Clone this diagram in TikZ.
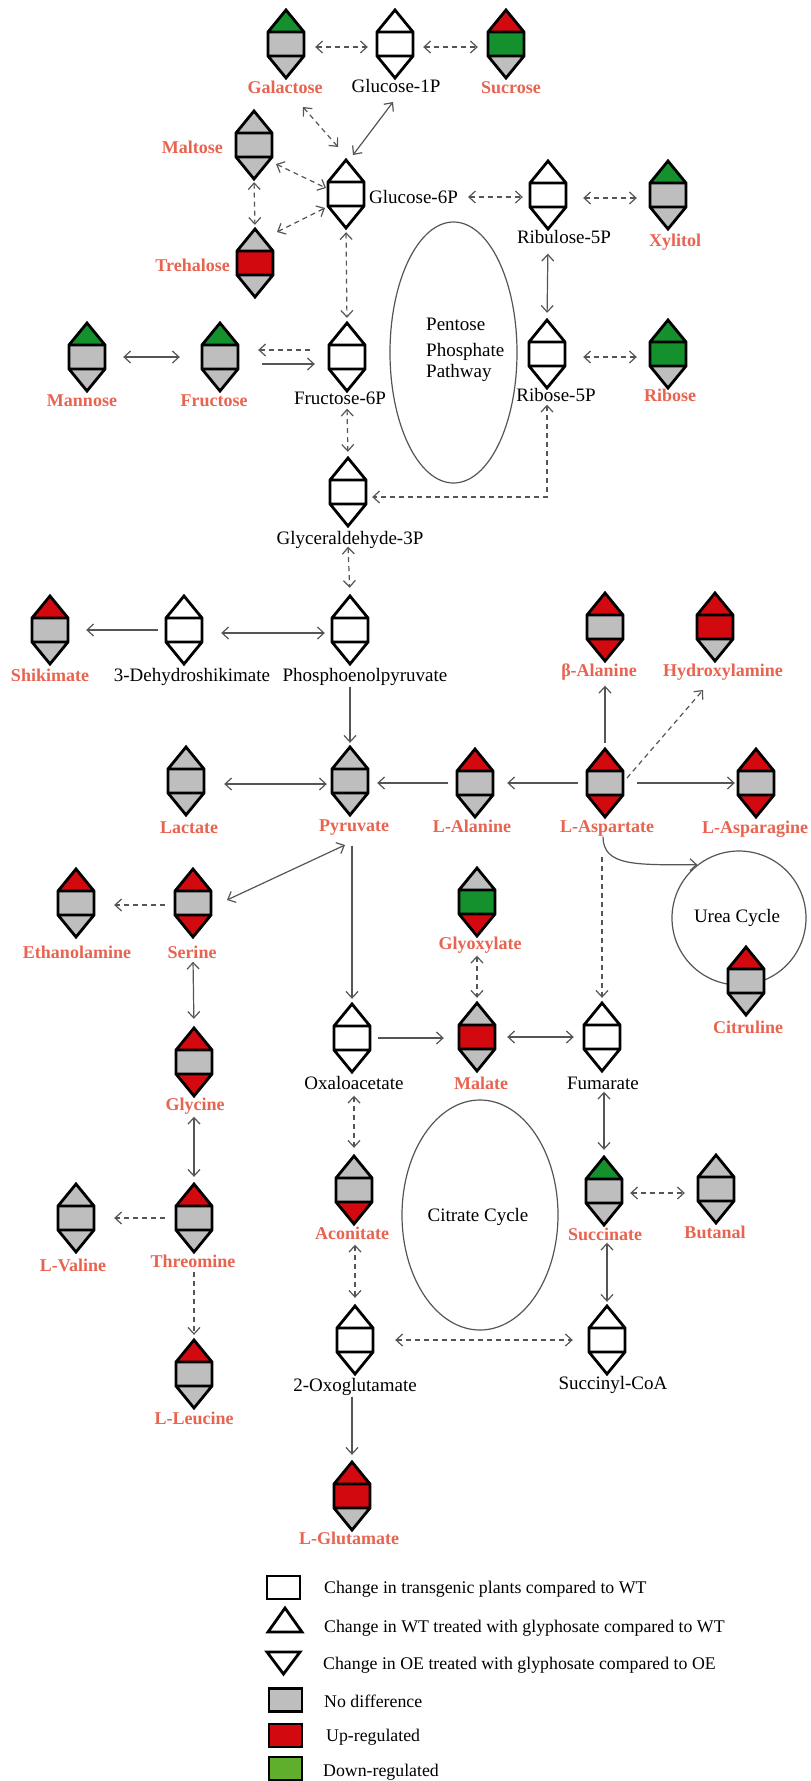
\documentclass[tikz,border=0pt]{standalone}
\usepackage{fontspec}
\setmainfont{Liberation Serif}
\usetikzlibrary{arrows.meta,calc,shapes.geometric}
\definecolor{gfill}{RGB}{190,190,190}
\definecolor{rfill}{RGB}{210,10,15}
\definecolor{grfill}{RGB}{20,145,45}
\definecolor{lgreen}{RGB}{95,175,45}
\definecolor{lblred}{RGB}{232,100,80}
\definecolor{arrgray}{RGB}{85,85,85}
\tikzset{
  glyphnode/.style={inner sep=0pt, minimum width=36pt, minimum height=68pt, draw=none},
  glyphline/.style={draw=black, line width=2.8pt, line join=miter},
  lbl/.style={inner sep=0pt, text height=13.5pt, text depth=1.5pt},
  blk/.style={lbl, text=black, font=\fontsize{19pt}{22pt}\selectfont},
  lgt/.style={lbl, text=black, font=\fontsize{17.8pt}{21pt}\selectfont, anchor=west},
  rl/.style={lbl, text=lblred, font=\fontsize{18pt}{21pt}\selectfont\bfseries},
  con/.style={draw=arrgray, line width=1.2pt},
  sa/.style={con, ->},
  ba/.style={con, <->},
  dsh/.style={dash pattern=on 5pt off 4pt},
  cyc/.style={draw=arrgray, line width=1.2pt, inner sep=0pt},
  lgbox/.style={draw=black, line width=2.8pt, minimum width=33pt, minimum height=23pt, inner sep=0pt}
}
\newcommand{\mglyph}[6]{%
  \node[glyphnode] (#1) at (#2,#3) {};
  \fill[#4] (#2-18,#3-12) -- (#2,#3-34) -- (#2+18,#3-12) -- cycle;
  \fill[#5] (#2-18,#3-12) rectangle (#2+18,#3+12);
  \fill[#6] (#2-18,#3+12) -- (#2,#3+34) -- (#2+18,#3+12) -- cycle;
  \draw[glyphline] (#2,#3-34) -- (#2+18,#3-12) -- (#2+18,#3+12) -- (#2,#3+34) -- (#2-18,#3+12) -- (#2-18,#3-12) -- cycle
    (#2-18,#3-12) -- (#2+18,#3-12) (#2-18,#3+12) -- (#2+18,#3+12);
}
\begin{document}
\begin{tikzpicture}[x=1pt, y=-1pt, >={Straight Barb[length=6.5pt,width=12pt]}]
\useasboundingbox[fill=white] (0,0) rectangle (811,1781);

% cycles
\node[cyc, ellipse, minimum width=127pt, minimum height=261pt] (ppp) at (453.5,352.5) {};
\node[cyc, ellipse, minimum width=156pt, minimum height=230pt] (tca) at (480,1215) {};
\node[cyc, circle, minimum size=134pt] (urea) at (739,918) {};
\node[blk, anchor=base west] (ppp1) at (426,330) {Pentose};
\node[blk, anchor=base west] (ppp2) at (426,356) {Phosphate};
\node[blk, anchor=base west] (ppp3) at (426,377) {Pathway};
\node[blk] (tcaL) at (478,1215) {Citrate Cycle};
\node[blk] (ureaL) at (737,916) {Urea Cycle};

% glyphs
\mglyph{gal}{286}{44}{grfill}{gfill}{gfill}
\mglyph{g1p}{395}{44}{white}{white}{white}
\mglyph{suc}{506}{44}{rfill}{grfill}{gfill}
\mglyph{mal}{254}{145}{gfill}{gfill}{gfill}
\mglyph{g6p}{346}{194}{white}{white}{white}
\mglyph{tre}{255}{263}{gfill}{rfill}{gfill}
\mglyph{ru5p}{548}{195}{white}{white}{white}
\mglyph{xyl}{668}{195}{grfill}{gfill}{gfill}
\mglyph{r5p}{547}{354}{white}{white}{white}
\mglyph{rib}{668}{354}{grfill}{grfill}{gfill}
\mglyph{man}{87}{357}{grfill}{gfill}{gfill}
\mglyph{fru}{220}{357}{grfill}{gfill}{gfill}
\mglyph{f6p}{347}{357}{white}{white}{white}
\mglyph{g3p}{348}{492}{white}{white}{white}
\mglyph{shk}{50}{630}{rfill}{gfill}{gfill}
\mglyph{dhs}{184}{630}{white}{white}{white}
\mglyph{pep}{350}{630}{white}{white}{white}
\mglyph{bal}{605}{627}{rfill}{gfill}{rfill}
\mglyph{hyd}{715}{627}{rfill}{rfill}{gfill}
\mglyph{lac}{186}{781}{gfill}{gfill}{gfill}
\mglyph{pyr}{350}{781}{gfill}{gfill}{gfill}
\mglyph{ala}{475}{783}{rfill}{gfill}{gfill}
\mglyph{asp}{605}{783}{rfill}{gfill}{rfill}
\mglyph{asn}{756}{783}{rfill}{gfill}{rfill}
\mglyph{eth}{76}{903}{rfill}{gfill}{gfill}
\mglyph{ser}{193}{903}{rfill}{gfill}{rfill}
\mglyph{glx}{477}{902}{gfill}{grfill}{rfill}
\mglyph{cit}{746}{981}{rfill}{gfill}{gfill}
\mglyph{oxa}{352}{1038}{white}{white}{white}
\mglyph{mala}{477}{1037}{gfill}{rfill}{gfill}
\mglyph{fum}{602}{1037}{white}{white}{white}
\mglyph{gly}{194}{1062}{rfill}{gfill}{rfill}
\mglyph{aco}{354}{1190}{gfill}{gfill}{rfill}
\mglyph{sucn}{604}{1191}{grfill}{gfill}{gfill}
\mglyph{but}{716}{1189}{gfill}{gfill}{gfill}
\mglyph{val}{76}{1218}{gfill}{gfill}{gfill}
\mglyph{thr}{194}{1218}{rfill}{gfill}{gfill}
\mglyph{oxg}{355}{1340}{white}{white}{white}
\mglyph{sco}{607}{1340}{white}{white}{white}
\mglyph{leu}{194}{1374}{rfill}{gfill}{gfill}
\mglyph{glu}{352}{1496}{rfill}{rfill}{gfill}

% labels
\node[rl] (galL) at (285,87) {Galactose};
\node[blk] (g1pL) at (396,86) {Glucose-1P};
\node[rl] (sucL) at (511,87) {Sucrose};
\node[rl, anchor=east] (malL) at (223,147) {Maltose};
\node[rl, anchor=east] (treL) at (230,265) {Trehalose};
\node[blk, anchor=west] (g6pL) at (369,197) {Glucose-6P};
\node[blk] (ru5pL) at (564,237) {Ribulose-5P};
\node[rl] (xylL) at (675,240) {Xylitol};
\node[blk] (r5pL) at (556,395) {Ribose-5P};
\node[rl] (ribL) at (670,395) {Ribose};
\node[rl] (manL) at (82,400) {Mannose};
\node[rl] (fruL) at (214,400) {Fructose};
\node[blk] (f6pL) at (340,398) {Fructose-6P};
\node[blk] (g3pL) at (350,538) {Glyceraldehyde-3P};
\node[rl] (shkL) at (50,675) {Shikimate};
\node[blk] (dhsL) at (192,675) {3-Dehydroshikimate};
\node[blk] (pepL) at (365,675) {Phosphoenolpyruvate};
\node[rl] (balL) at (599,670) {β-Alanine};
\node[rl] (hydL) at (723,670) {Hydroxylamine};
\node[rl] (lacL) at (189,827) {Lactate};
\node[rl] (pyrL) at (354,825) {Pyruvate};
\node[rl] (alaL) at (472,826) {L-Alanine};
\node[rl] (aspL) at (607,826) {L-Aspartate};
\node[rl] (asnL) at (755,827) {L-Asparagine};
\node[rl] (ethL) at (77,952) {Ethanolamine};
\node[rl] (serL) at (192,952) {Serine};
\node[rl] (glxL) at (480,943) {Glyoxylate};
\node[rl] (citL) at (748,1027) {Citruline};
\node[blk] (oxaL) at (354,1083) {Oxaloacetate};
\node[rl] (malaL) at (481,1083) {Malate};
\node[blk] (fumL) at (603,1083) {Fumarate};
\node[rl] (glyL) at (195,1104) {Glycine};
\node[rl] (acoL) at (352,1233) {Aconitate};
\node[rl] (sucnL) at (605,1234) {Succinate};
\node[rl] (butL) at (715,1232) {Butanal};
\node[rl] (valL) at (73,1265) {L-Valine};
\node[rl] (thrL) at (193,1261) {Threomine};
\node[blk] (oxgL) at (355,1385) {2-Oxoglutamate};
\node[blk] (scoL) at (613,1383) {Succinyl-CoA};
\node[rl] (leuL) at (194,1418) {L-Leucine};
\node[rl] (gluL) at (349,1538) {L-Glutamate};

% connectors
\draw[ba,dsh,shorten <=11pt,shorten >=9pt] ([yshift=-3pt]gal.east) -- ([yshift=-3pt]g1p.west);
\draw[ba,dsh,shorten <=10pt,shorten >=10pt] ([yshift=-3pt]g1p.east) -- ([yshift=-3pt]suc.west);
\draw[ba,dsh] ([shift={(17,63)}]gal.center) -- ([shift={(-8,-47)}]g6p.center);
\draw[ba] ([shift={(-2,58)}]g1p.center) -- ([shift={(7,-39)}]g6p.center);
\draw[ba,dsh] ([shift={(22,19)}]mal.center) -- ([shift={(-20,-6)}]g6p.center);
\draw[ba,dsh,shorten <=3pt,shorten >=4pt] (mal.south) -- (tre.north);
\draw[ba,dsh] ([shift={(22,-31)}]tre.center) -- ([shift={(-21,14)}]g6p.center);
\draw[ba,dsh,shorten <=10pt,shorten >=7pt] (g6pL.east) -- (g6pL.east -| ru5p.west);
\draw[ba,dsh,shorten <=17pt,shorten >=13pt] ([yshift=-3pt]ru5p.east) -- ([yshift=-3pt]xyl.west);
\draw[ba,shorten <=9pt,shorten >=7pt] (ru5p |- ru5pL.south) -- (r5p.north);
\draw[ba,dsh,shorten <=18pt,shorten >=13pt] ([yshift=-3pt]r5p.east) -- ([yshift=-3pt]rib.west);
\coordinate (g3pin) at ([yshift=-5pt]g3p.east);
\draw[ba,dsh,shorten <=2pt,shorten >=6pt] (r5p |- r5pL.south) -- (r5p |- g3pin) -- (g3pin);
\draw[ba,dsh,shorten <=4pt,shorten >=5pt] (g6p.south) -- (f6p.north);
\draw[ba,shorten <=18pt,shorten >=22pt] (man.east) -- (fru.west);
\draw[sa,dsh,shorten <=19pt,shorten >=20pt] ([yshift=7pt]f6p.west) -- ([yshift=7pt]fru.east);
\draw[sa,shorten <=24pt,shorten >=14pt] ([yshift=-7pt]fru.east) -- ([yshift=-7pt]f6p.west);
\draw[ba,dsh,shorten <=3pt,shorten >=6pt] (f6p |- f6pL.south) -- (g3p.north);
\draw[ba,dsh,shorten <=1pt,shorten >=8pt] (g3p |- g3pL.south) -- (pep.north);
\draw[sa,shorten <=8pt,shorten >=18pt] (dhs.west) -- (shk.east);
\draw[ba,shorten <=19pt,shorten >=7pt] ([yshift=-3pt]dhs.east) -- ([yshift=-3pt]pep.west);
\draw[sa,shorten <=4pt,shorten >=4pt] (pep |- pepL.south) -- (pyr.north);
\draw[ba,shorten <=20pt,shorten >=5pt] ([yshift=-3pt]lac.east) -- ([yshift=-3pt]pyr.west);
\draw[sa,shorten <=9pt,shorten >=9pt] (ala.west) -- (ala.west -| pyr.east);
\draw[sa,shorten <=9pt,shorten >=14pt] (asp.west) -- (ala.east);
\draw[sa,shorten <=14pt,shorten >=3pt] (asp.east) -- (asn.west);
\draw[sa,shorten <=6pt,shorten >=8pt] (asp.north) -- (asp |- balL.south);
\draw[sa,dsh] ([shift={(22,-5)}]asp.center) -- ([shift={(-12,63)}]hyd.center);
\draw[sa] ([shift={(-4,3)}]aspL.south) .. controls +(0,30) and +(-60,0) .. (urea.128);
\draw[sa,dsh,shorten <=23pt,shorten >=5pt] (fum |- aspL.south) -- (fum.north);
\draw[sa,shorten <=13pt,shorten >=5pt] (oxa |- pyrL.south) -- (oxa.north);
\draw[ba] ([shift={(34,-3)}]ser.center) -- ([shift={(-5,64)}]pyr.center);
\draw[sa,dsh,shorten <=10pt,shorten >=20pt] ([yshift=-2pt]ser.west) -- ([yshift=-2pt]eth.east);
\draw[ba,shorten <=2pt,shorten >=9pt] (ser |- serL.south) -- (gly.north);
\draw[ba,shorten <=5pt,shorten >=7pt] (gly |- glyL.south) -- (thr.north);
\draw[sa,dsh,shorten <=11pt,shorten >=20pt] (thr.west) -- (val.east);
\draw[sa,dsh,shorten <=3pt,shorten >=5pt] (thr |- thrL.south) -- (leu.north);
\draw[ba,dsh,shorten <=5pt,shorten >=5pt] (glx |- glxL.south) -- (mala.north);
\draw[sa,shorten <=8pt,shorten >=15pt] (oxa.east) -- (oxa.east -| mala.west);
\draw[ba,shorten <=12pt,shorten >=10pt] (mala.east) -- (fum.west);
\draw[ba,shorten <=1pt,shorten >=7pt] (sucn |- fumL.south) -- (sucn.north);
\draw[ba,dsh,shorten <=8pt,shorten >=13pt] ([yshift=-2pt]sucn.east) -- ([yshift=-2pt]sucn.east -| but.west);
\draw[ba,shorten <=1pt,shorten >=4pt] (sco |- sucnL.south) -- (sco.north);
\draw[ba,dsh,shorten <=5pt,shorten >=8pt] (aco |- oxaL.south) -- (aco.north);
\draw[ba,dsh,shorten <=4pt,shorten >=8pt] (oxg |- acoL.south) -- (oxg.north);
\draw[ba,dsh,shorten <=22pt,shorten >=16pt] (oxg.east) -- (oxg.east -| sco.west);
\draw[sa,shorten <=4pt,shorten >=7pt] (glu |- oxgL.south) -- (glu.north);

% legend
\node[lgbox, fill=white] (lgA) at (283.5,1587.5) {};
\draw[glyphline] (268,1632) -- (302,1632) -- (285,1608) -- cycle;
\draw[glyphline] (267,1652) -- (300,1652) -- (283.5,1674) -- cycle;
\node[lgbox, fill=gfill] (lgD) at (285.5,1700) {};
\node[lgbox, fill=rfill] (lgE) at (285.5,1735.5) {};
\node[lgbox, fill=lgreen] (lgF) at (285.5,1768.5) {};
\node[lgt] (lgAt) at (324,1587) {Change in transgenic plants compared to WT};
\node[lgt] (lgBt) at (324,1626) {Change in WT treated with glyphosate compared to WT};
\node[lgt] (lgCt) at (323,1663) {Change in OE treated with glyphosate compared to OE};
\node[lgt] (lgDt) at (324,1701) {No difference};
\node[lgt] (lgEt) at (326,1735) {Up-regulated};
\node[lgt] (lgFt) at (323,1770) {Down-regulated};
\end{tikzpicture}
\end{document}
